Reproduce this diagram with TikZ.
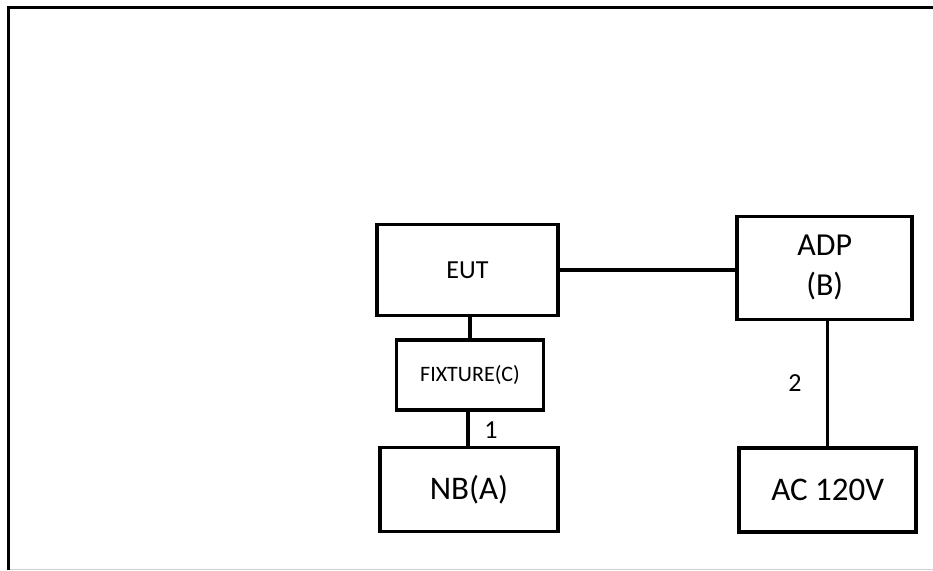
\documentclass[tikz,border=0pt]{standalone}
\usepackage{fontspec}
\setmainfont{Carlito}
\begin{document}
\begin{tikzpicture}[x=1pt,y=-1pt,
  blk/.style={draw=black,line width=3.5pt,rectangle,inner sep=0pt,align=center},
  wire/.style={draw=black,line width=3.2pt},
  lbl/.style={inner sep=0pt,font=\fontsize{26}{30}\selectfont}]
\useasboundingbox (0,0) rectangle (933,570);
% frame
\draw[line width=3pt] (8,570) -- (8,7.5) -- (933,7.5);
\draw[line width=1pt,color=black!18] (10,569) -- (933,569);
% blocks
\node[blk,minimum width=181pt,minimum height=91pt,font=\fontsize{26}{31}\selectfont] (eut) at (467.5,270) {EUT};
\node[blk,minimum width=147pt,minimum height=70pt,font=\fontsize{22}{26}\selectfont] (fix) at (470,375) {FIXTURE(C)};
\node[blk,minimum width=178pt,minimum height=84pt,font=\fontsize{33}{40}\selectfont] (nb) at (469,489.7) {NB(A)};
\node[blk,minimum width=175pt,minimum height=103pt,font=\fontsize{32}{40}\selectfont] (adp) at (824.7,267.8) {ADP\\(B)};
\node[blk,minimum width=177pt,minimum height=84pt,font=\fontsize{33}{40}\selectfont] (ac) at (827.7,490) {AC 120V};
% connectors
\draw[wire] (eut.east) -- (eut.east -| adp.west);
\draw[wire] (fix.north) -- (fix.north |- eut.south);
\draw[wire] ([xshift=-1pt]nb.north) -- ([xshift=-1pt]nb.north |- fix.south);
\draw[wire] (ac.north) -- (ac.north |- adp.south);
% labels
\node[lbl] (l1) at (491,430) {1};
\node[lbl] (l2) at (795,383) {2};
\end{tikzpicture}
\end{document}
